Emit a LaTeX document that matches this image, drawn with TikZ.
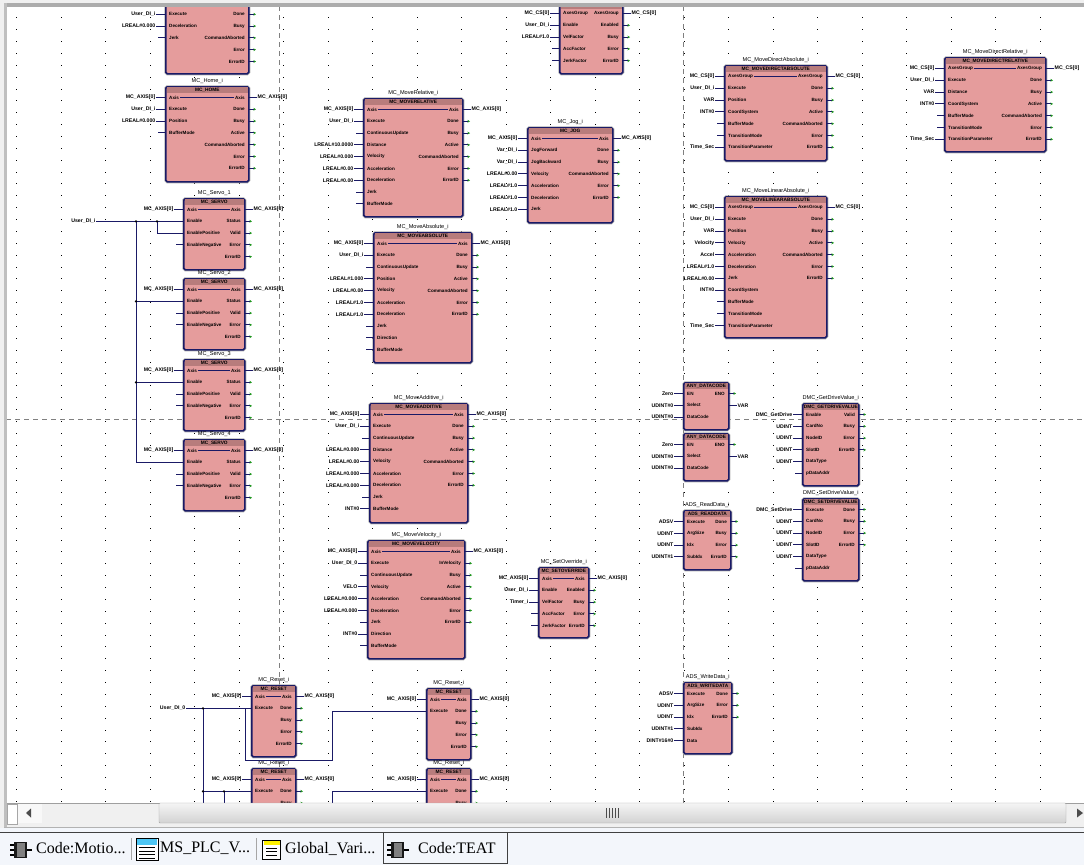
\documentclass[tikz,border=0pt]{standalone}
\usepackage{fontspec}
\setmainfont{Liberation Sans}
\newfontfamily\tabfont{Liberation Serif}
\usepackage{tikz}
\usetikzlibrary{arrows.meta, positioning}
\definecolor{fbfill}{RGB}{229,156,156}
\definecolor{fbhead}{RGB}{184,124,124}
\definecolor{navywire}{RGB}{26,26,102}
\definecolor{pingreen}{RGB}{30,150,30}
\definecolor{tabbg}{RGB}{243,246,251}
\definecolor{scrollbg}{RGB}{240,240,240}
\tikzset{
  fbbox/.style={draw=navywire, fill=fbfill, line width=1.6pt, rounded corners=1.5pt,
    anchor=north west, inner sep=0pt,
    preaction={draw=gray!60, line width=3pt}},
  fbband/.style={fill=fbhead, inner sep=0pt, minimum height=5.5pt, font=\fontsize{4.8}{5}\selectfont\bfseries},
  fbname/.style={inner sep=0pt, font=\fontsize{5.6}{6}\selectfont},
  pinin/.style={anchor=west, xshift=3pt, inner sep=1pt, font=\fontsize{4.6}{6}\selectfont\bfseries},
  pinout/.style={anchor=east, xshift=-2pt, inner sep=1pt, font=\fontsize{4.6}{6}\selectfont\bfseries},
  varin/.style={anchor=east, inner sep=0.5pt, font=\fontsize{5.2}{6}\selectfont\bfseries},
  varout/.style={anchor=west, inner sep=0.5pt, font=\fontsize{5.2}{6}\selectfont\bfseries},
  wire/.style={draw=navywire, line width=1pt},
  tipwire/.style={wire, -{Stealth[length=2.6pt, width=2.8pt, color=pingreen]}},
  junct/.style={circle, fill=black, inner sep=0pt, minimum size=2.6pt},
  griddot/.style={fill=black},
  pagebreak/.style={draw=gray, line width=0.7pt, dash pattern=on 5pt off 4pt},
  tablabel/.style={anchor=west, inner sep=0pt, font=\tabfont\fontsize{16}{16}\selectfont},
}
\def\nopin{-}
% id, x, top, width, height, instance, type, inputs, outputs
\newcommand{\fbblock}[9]{
  \node[fbbox, minimum width=#4pt, minimum height=#5pt] (#1) at (#2,#3) {};
  \node[fbband, minimum width={#4pt-1.6pt}, below=0.8pt of #1.north] (#1-t) {#7};
  \node[fbname, above=2.4pt of #1.north] (#1-n) {#6};
  \foreach \pin/\var [count=\n] in {#8} {
    \coordinate (#1-p\n) at (#2,{#3+11.5+11.8*(\n-1)});
    \node[pinin] (#1-i\n) at (#1-p\n) {\pin};
    \ifx\var\nopin
      \coordinate (#1-s\n) at ([xshift=-7pt]#1-p\n);
      \draw[wire] (#1-s\n) -- (#1-p\n);
    \else
      \node[varin] (#1-v\n) at ([xshift=-9pt]#1-p\n) {\var};
      \draw[wire] (#1-v\n) -- (#1-p\n);
    \fi
  }
  \foreach \pin/\var [count=\n] in {#9} {
    \coordinate (#1-q\n) at (#2+#4,{#3+11.5+11.8*(\n-1)});
    \node[pinout] (#1-o\n) at (#1-q\n) {\pin};
    \ifx\var\nopin
      \coordinate (#1-e\n) at ([xshift=8pt]#1-q\n);
      \draw[tipwire] (#1-q\n) -- (#1-e\n);
    \else
      \node[varout] (#1-w\n) at ([xshift=9pt]#1-q\n) {\var};
      \draw[wire] (#1-q\n) -- (#1-w\n);
    \fi
  }
}
\newcommand{\fbthru}[1]{\draw[wire] (#1-i1) -- (#1-o1);}
\newcommand{\chipicon}[2]{
  \fill[gray!20!black] (#1+4,#2) rectangle (#1+17,#2+16);
  \fill[gray] (#1+6.5,#2+1) rectangle (#1+14.5,#2+15);
  \foreach \k in {3,8,13} {
    \draw[black, line width=1.3pt] (#1,#2+\k) -- (#1+4,#2+\k);
  }
  \draw[black, line width=1.3pt] (#1+17,#2+8) -- (#1+22,#2+8);
}
\begin{document}
\begin{tikzpicture}[x=1pt, y=-1pt]
  \useasboundingbox (0,0) rectangle (1084,865);
  \fill[white] (0,0) rectangle (1084,865);
  \begin{scope}
    \clip (6,6) rectangle (1084,803);
    % page grid
    \foreach \col in {0,...,24} {
      \foreach \row in {0,...,66} {
        \fill[griddot] ({16+44.5*\col},{17.3+11.87*\row}) rectangle +(1,1);
      }
    }
    \draw[pagebreak] (279,6) -- (279,803);
    \draw[pagebreak] (683,6) -- (683,803);
    \draw[pagebreak] (6,419) -- (1084,419);

    % left column
    \fbblock{stopA}{165}{-9}{83}{82}{}{}
      {{}/-,Execute/User\_DI\_i,Deceleration/LREAL\#0.000,Jerk/-}
      {{}/-,Done/-,Busy/-,CommandAborted/-,Error/-,ErrorID/-}
    \fbblock{homeA}{165}{86}{83}{95}{MC\_Home\_i}{MC\_HOME}
      {Axis/MC\_AXIS[0],Execute/User\_DI\_i,Position/LREAL\#0.000,BufferMode/-}
      {Axis/MC\_AXIS[0],Done/-,Busy/-,Active/-,CommandAborted/-,Error/-,ErrorID/-}
    \fbthru{homeA}
    \foreach \name/\top/\inst in {pwrA/198/1,pwrB/278/2,pwrC/359/3,pwrD/439/4} {
      \fbblock{\name}{183}{\top}{61}{71}{MC\_Servo\_\inst}{MC\_SERVO}
        {Axis/MC\_AXIS[0],Enable/-,EnablePositive/-,EnableNegative/-}
        {Axis/MC\_AXIS[0],Status/-,Valid/-,Error/-,ErrorID/-}
      \fbthru{\name}
    }
    \node[varin] (usrDI) at (96,221.3) {User\_DI\_i};
    \coordinate (busA) at (136,221.3);
    \coordinate (busB) at (157,221.3);
    \draw[wire] (usrDI) -- (pwrA-p2);
    \draw[wire] (busA) -- (busA |- pwrD-p2) -- (pwrD-p2);
    \draw[wire] (busB) -- (busB |- pwrA-p3) -- (pwrA-p3);
    \foreach \name in {pwrB,pwrC} {
      \draw[wire] (busA |- \name-p2) -- (\name-p2);
      \node[junct] (\name-j) at (busA |- \name-p2) {};
    }
    \node[junct] (busA-j) at (busA) {};
    \node[junct] (busB-j) at (busB) {};

    % motion blocks
    \fbblock{relA}{363}{98}{99}{118}{MC\_MoveRelative\_i}{MC\_MOVERELATIVE}
      {Axis/MC\_AXIS[0],Execute/User\_DI\_i,ContinuousUpdate/-,Distance/LREAL\#10.0000,Velocity/LREAL\#0.000,Acceleration/LREAL\#0.00,Deceleration/LREAL\#0.00,Jerk/-,BufferMode/-}
      {Axis/MC\_AXIS[0],Done/-,Busy/-,Active/-,CommandAborted/-,Error/-,ErrorID/-}
    \fbthru{relA}
    \fbblock{absA}{373}{232}{98}{130}{MC\_MoveAbsolute\_i}{MC\_MOVEABSOLUTE}
      {Axis/MC\_AXIS[0],Execute/User\_DI\_i,ContinuousUpdate/-,Position/LREAL\#1.000,Velocity/LREAL\#0.00,Acceleration/LREAL\#1.0,Deceleration/LREAL\#1.0,Jerk/-,Direction/-,BufferMode/-}
      {Axis/MC\_AXIS[0],Done/-,Busy/-,Active/-,CommandAborted/-,Error/-,ErrorID/-}
    \fbthru{absA}
    \fbblock{addA}{369}{403}{98}{119}{MC\_MoveAdditive\_i}{MC\_MOVEADDITIVE}
      {Axis/MC\_AXIS[0],Execute/User\_DI\_i,ContinuousUpdate/-,Distance/LREAL\#0.000,Velocity/LREAL\#0.00,Acceleration/LREAL\#0.000,Deceleration/LREAL\#0.000,Jerk/-,BufferMode/INT\#0}
      {Axis/MC\_AXIS[0],Done/-,Busy/-,Active/-,CommandAborted/-,Error/-,ErrorID/-}
    \fbthru{addA}
    \fbblock{velA}{367}{540}{97}{118}{MC\_MoveVelocity\_i}{MC\_MOVEVELOCITY}
      {Axis/MC\_AXIS[0],Execute/User\_DI\_0,ContinuousUpdate/-,Velocity/VELO,Acceleration/LREAL\#0.000,Deceleration/LREAL\#0.000,Jerk/-,Direction/INT\#0,BufferMode/-}
      {Axis/MC\_AXIS[0],InVelocity/-,Busy/-,Active/-,CommandAborted/-,Error/-,ErrorID/-}
    \fbthru{velA}

    % group and jog
    \fbblock{ovrG}{559}{2}{63}{71}{}{}
      {AxesGroup/MC\_CS[0],Enable/User\_DI\_i,VelFactor/LREAL\#1.0,AccFactor/-,JerkFactor/-}
      {AxesGroup/MC\_CS[0],Enabled/-,Busy/-,Error/-,ErrorID/-}
    \fbblock{jogA}{527}{127}{85}{95}{MC\_Jog\_i}{MC\_JOG}
      {Axis/MC\_AXIS[0],JogForward/Var\_DI\_i,JogBackward/Var\_DI\_i,Velocity/LREAL\#0.00,Acceleration/LREAL\#1.0,Deceleration/LREAL\#1.0,Jerk/LREAL\#1.0}
      {Axis/MC\_AXIS[0],Done/-,Busy/-,CommandAborted/-,Error/-,ErrorID/-}
    \fbthru{jogA}
    \fbblock{ovrA}{538}{567}{50}{70}{MC\_SetOverride\_i}{MC\_SETOVERRIDE}
      {Axis/MC\_AXIS[0],Enable/User\_DI\_i,VelFactor/Timer\_i,AccFactor/-,JerkFactor/-}
      {Axis/MC\_AXIS[0],Enabled/-,Busy/-,Error/-,ErrorID/-}
    \fbthru{ovrA}

    % direct moves
    \fbblock{dirA}{724}{65}{102}{95}{MC\_MoveDirectAbsolute\_i}{MC\_MOVEDIRECTABSOLUTE}
      {AxesGroup/MC\_CS[0],Execute/User\_DI\_i,Position/VAR,CoordSystem/INT\#0,BufferMode/-,TransitionMode/-,TransitionParameter/Time\_Sec}
      {AxesGroup/MC\_CS[0],Done/-,Busy/-,Active/-,CommandAborted/-,Error/-,ErrorID/-}
    \fbthru{dirA}
    \fbblock{linA}{724}{196}{102}{141}{MC\_MoveLinearAbsolute\_i}{MC\_MOVELINEARABSOLUTE}
      {AxesGroup/MC\_CS[0],Execute/User\_DI\_i,Position/VAR,Velocity/Velocity,Acceleration/Accel,Deceleration/LREAL\#1.0,Jerk/LREAL\#0.00,CoordSystem/INT\#0,BufferMode/-,TransitionMode/-,TransitionParameter/Time\_Sec}
      {AxesGroup/MC\_CS[0],Done/-,Busy/-,Active/-,CommandAborted/-,Error/-,ErrorID/-}
    \fbthru{linA}
    \fbblock{dirB}{944}{57}{101}{94}{MC\_MoveDirectRelative\_i}{MC\_MOVEDIRECTRELATIVE}
      {AxesGroup/MC\_CS[0],Execute/User\_DI\_i,Distance/VAR,CoordSystem/INT\#0,BufferMode/-,TransitionMode/-,TransitionParameter/Time\_Sec}
      {AxesGroup/MC\_CS[0],Done/-,Busy/-,Active/-,CommandAborted/-,Error/-,ErrorID/-}
    \fbthru{dirB}

    % small helper blocks
    \foreach \name/\top in {selA/382,selB/433} {
      \fbblock{\name}{683}{\top}{45}{47}{}{ANY\_DATACODE}
        {EN/Zero,Select/UDINT\#0,DataCode/UDINT\#0}
        {ENO/-,{}/VAR}
    }
    \fbblock{getA}{802}{403}{56}{82}{DMC\_GetDriveValue\_i}{DMC\_GETDRIVEVALUE}
      {Enable/DMC\_GetDrive,CardNo/UDINT,NodeID/UDINT,SlotID/UDINT,DataType/UDINT,pDataAddr/-}
      {Valid/-,Busy/-,Error/-,ErrorID/-}
    \fbblock{setA}{802}{498}{56}{82}{DMC\_SetDriveValue\_i}{DMC\_SETDRIVEVALUE}
      {Execute/DMC\_SetDrive,CardNo/UDINT,NodeID/UDINT,SlotID/UDINT,DataType/UDINT,pDataAddr/-}
      {Done/-,Busy/-,Error/-,ErrorID/-}
    \fbblock{adsR}{683}{510}{47}{59}{ADS\_ReadData\_i}{ADS\_READDATA}
      {Execute/ADSV,ArgSize/UDINT,Idx/UDINT,SubIdx/UDINT\#1}
      {Done/-,Busy/-,Error/-,ErrorID/-}
    \fbblock{adsW}{683}{682}{48}{71}{ADS\_WriteData\_i}{ADS\_WRITEDATA}
      {Execute/ADSV,ArgSize/UDINT,Idx/UDINT,SubIdx/UDINT\#1,Data/DINT\#16\#0}
      {Done/-,Error/-,ErrorID/-}

    % reset row
    \foreach \name/\px/\top in {rstA/251/685,rstB/251/768,rstC/426/688,rstD/426/768} {
      \fbblock{\name}{\px}{\top}{44}{71}{MC\_Reset\_i}{MC\_RESET}
        {Axis/MC\_AXIS[0],Execute/-}
        {Axis/MC\_AXIS[0],Done/-,Busy/-,Error/-,ErrorID/-}
      \fbthru{\name}
    }
    \node[varin] (usrDR) at (186,708.3) {User\_DI\_0};
    \coordinate (busC) at (203,708.3);
    \coordinate (busD) at (245,708.3);
    \coordinate (busE) at (224,791.3);
    \coordinate (busF) at (332,803);
    \coordinate (busG) at (245,760);
    \coordinate (busH) at (332,760);
    \coordinate (busI) at (203,803);
    \coordinate (busJ) at (224,803);
    \draw[wire] (usrDR) -- (busD);
    \draw[wire] (busD) -- (rstA-p2);
    \draw[wire] (busD) -- (busG) -- (busH) -- (busH |- rstC-p2) -- (rstC-p2);
    \draw[wire] (busC) -- (busI);
    \draw[wire] (busC |- rstB-p2) -- (rstB-p2);
    \draw[wire] (busE) -- (busJ);
    \draw[wire] (busF) -- (busF |- rstD-p2) -- (rstD-p2);
    \node[junct] (busC-j) at (busC) {};
    \node[junct] (busD-j) at (busC |- rstB-p2) {};
    \node[junct] (busE-j) at (busE) {};
  \end{scope}

  % window frame
  \fill[gray!12] (0,0) rectangle (1084,3);
  \fill[gray!12] (0,0) rectangle (4,828);
  \fill[gray!65] (4,3) rectangle (1084,6.5);
  \fill[gray!50] (4,3) rectangle (7,828);

  % scroll bar
  \fill[scrollbg] (7,803) rectangle (1084,827);
  \fill[white!50!scrollbg] (17,804) rectangle (42,823);
  \draw[gray!75] (7,803) -- (1084,803);
  \draw[gray!70, fill=white] (7,804) -- (7,824) -- (17,824) -- (17,804) -- cycle;
  \fill[black!70] (26,813) -- (31,808.5) -- (31,817.5) -- cycle;
  \fill[black!70] (1083,813) -- (1077,808.5) -- (1077,817.5) -- cycle;
  \node[draw=gray!70, rounded corners=1pt, top color=gray!8, bottom color=gray!35,
        minimum width=907pt, minimum height=20pt, inner sep=0pt] (thumb) at (612.5,813) {};
  \foreach \k in {606,609,612,615,618} {
    \draw[gray!60!black, line width=0.9pt] (\k,808) -- (\k,818);
  }

  % tab bar
  \fill[tabbg] (0,828) rectangle (1084,865);
  \draw[gray!60] (4,827) -- (1084,827);
  \draw[gray!50!black, line width=0.8pt] (0,832) -- (1084,832);
  \draw[gray!50!black, line width=0.8pt] (383,832) -- (383,863) -- (507,863) -- (507,832);
  \draw[gray!70] (131,838) -- (131,860);
  \draw[gray!70] (256,838) -- (256,860);
  \chipicon{10}{842}
  \chipicon{387}{842}
  \draw[black, line width=0.8pt, fill=white] (136,838.5) rectangle (158,860.5);
  \fill[cyan!70] (137,839) rectangle (157,844.5);
  \foreach \k in {847.5,851,854.5,858} {
    \draw[black, line width=1pt] (139,\k) -- (155,\k);
  }
  \draw[black, line width=0.7pt, fill=white] (262.5,840) rectangle (280.5,859);
  \fill[yellow] (263.5,840.5) rectangle (279.5,845);
  \foreach \k in {848,851.5,855} {
    \draw[black, line width=0.9pt] (266,\k) -- (277,\k);
  }
  \node[tablabel] (tabA) at (36,848.5) {Code:Motio...};
  \node[tablabel] (tabB) at (160,848.5) {MS\_PLC\_V...};
  \node[tablabel] (tabC) at (285,848.5) {Global\_Vari...};
  \node[tablabel] (tabD) at (418,848.5) {Code:TEAT};
\end{tikzpicture}
\end{document}
